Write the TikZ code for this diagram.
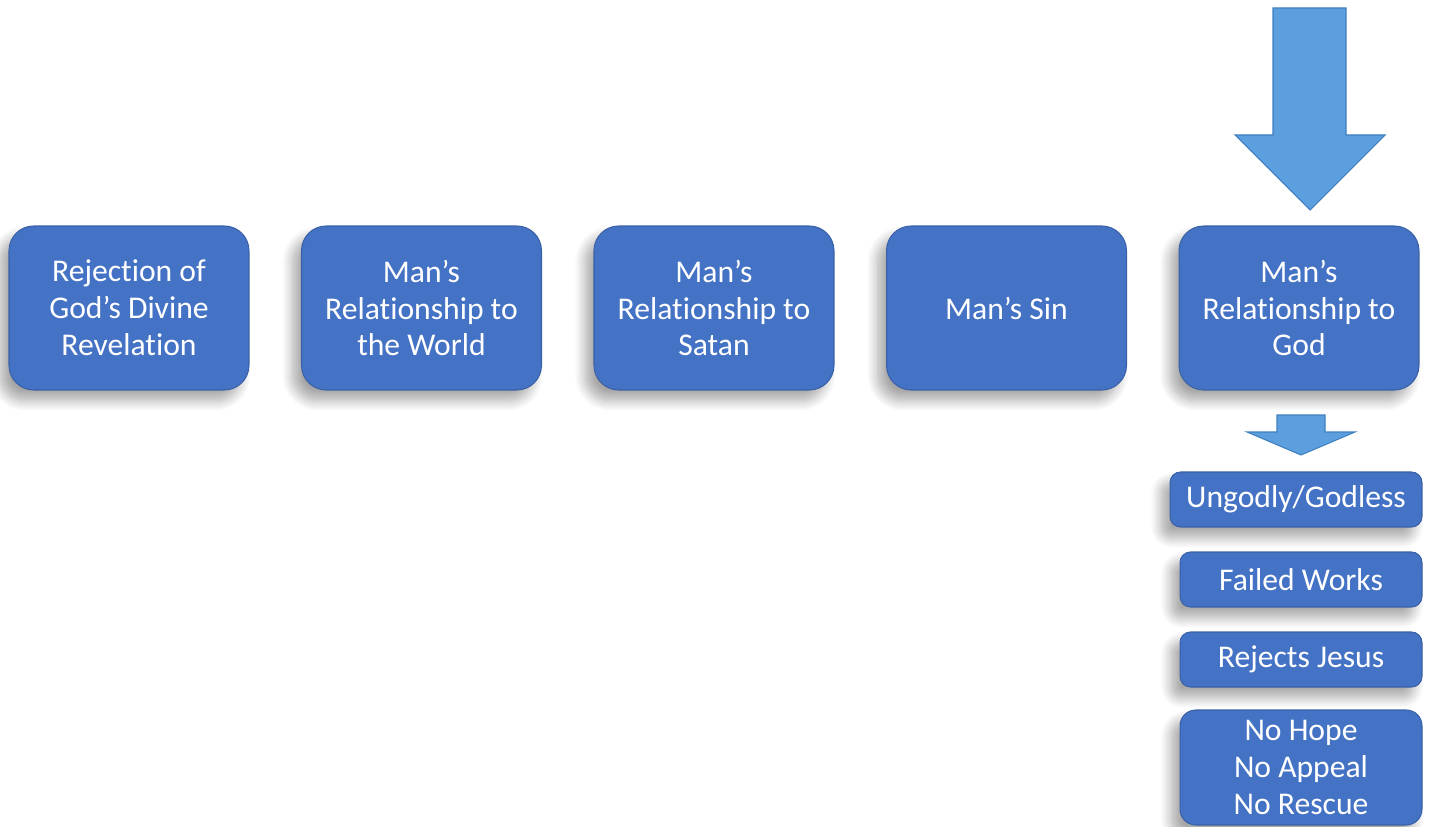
\documentclass[tikz,border=0pt]{standalone}
\usepackage{fontspec}
\setmainfont[Ligatures=NoCommon]{Carlito}
\usetikzlibrary{positioning,shadows.blur}
\definecolor{boxblue}{HTML}{4472C4}
\definecolor{arrowblue}{HTML}{5B9FDF}
\definecolor{arrowedge}{HTML}{3F7FBF}
\tikzset{
  stepbox/.style={draw=boxblue!85!black, line width=0.6pt, fill=boxblue, text=white,
    rounded corners=14pt, minimum width=4.8cm, minimum height=3.28cm, align=center,
    font=\fontsize{18}{21}\selectfont,
    blur shadow={shadow xshift=-5pt, shadow yshift=-6pt, shadow blur steps=12, shadow blur radius=6pt, shadow opacity=35}},
  subbox/.style={stepbox, rounded corners=6pt, minimum width=4.84cm, minimum height=1.1cm},
  bigarrow/.style={fill=arrowblue, draw=arrowedge, line width=0.6pt, line join=miter}
}
\begin{document}
\begin{tikzpicture}[x=0.02cm, y=-0.02cm]
  \useasboundingbox (0,0) rectangle (1432,827);

  % main row
  \node[stepbox] (rej) at (129,308) {Rejection of\\God’s Divine\\Revelation};
  \node[stepbox, right=1.03cm of rej] (world) {Man’s\\Relationship to\\the World};
  \node[stepbox, right=1.03cm of world] (satan) {Man’s\\Relationship to\\Satan};
  \node[stepbox, right=1.03cm of satan] (sin) {Man’s Sin};
  \node[stepbox, right=1.03cm of sin] (god) {Man’s\\Relationship to\\God};

  % consequences
  \node[subbox, minimum width=5.04cm] (ungodly) at (1296,499.5) {Ungodly/Godless};
  \node[subbox] (works) at (1301,579.5) {Failed Works};
  \node[subbox] (jesus) at (1301,659.5) {Rejects Jesus};
  \node[subbox, rounded corners=9pt, minimum height=2.3cm] (nohope) at (1301,767.5) {No Hope\\No Appeal\\No Rescue};

  % arrows
  \draw[bigarrow] (1273,8) -- (1346,8) -- (1346,135) -- (1385,135)
    -- (1310,210) -- (1235,135) -- (1273,135) -- cycle;
  \draw[bigarrow] (1277,415) -- (1325,415) -- (1325,432) -- (1355,432)
    -- (1301,455) -- (1247,432) -- (1277,432) -- cycle;
\end{tikzpicture}
\end{document}
